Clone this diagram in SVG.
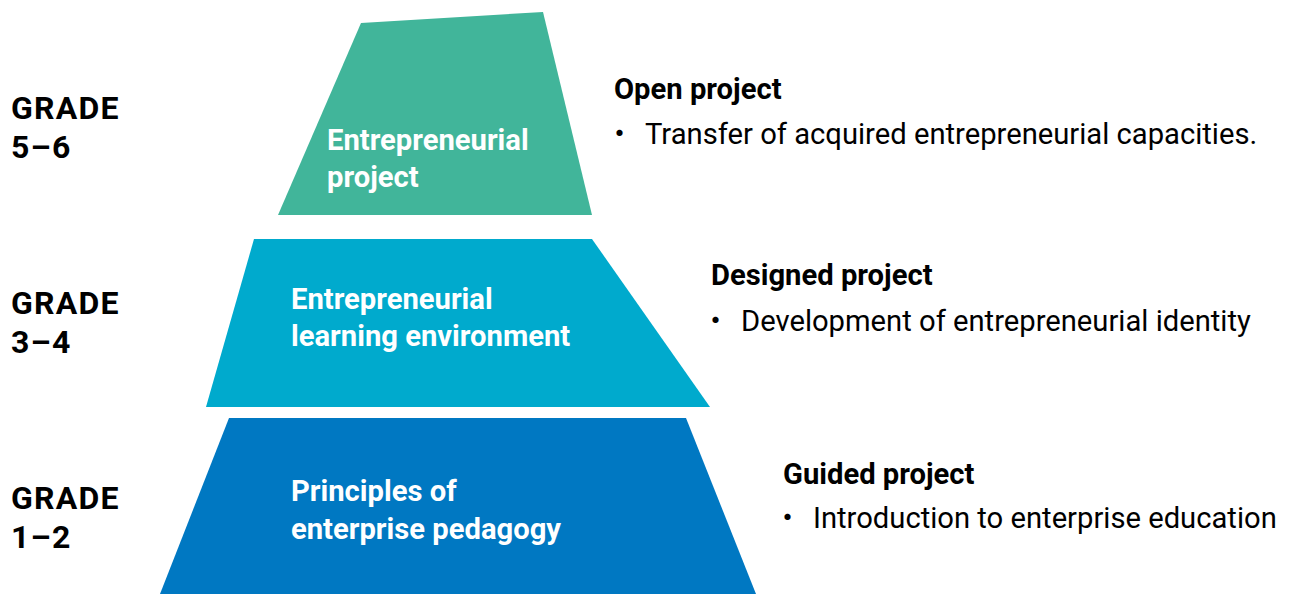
<svg xmlns="http://www.w3.org/2000/svg" width="1296" height="594" viewBox="0 0 1296 594">
<style>
.grade{font-family:Roboto,"Liberation Sans",sans-serif;font-weight:700;font-size:32px;letter-spacing:1.2px;fill:#000}
.lbl{font-family:Roboto,"Liberation Sans",sans-serif;font-weight:700;font-size:29.2px;fill:#fff}
.head{font-family:Roboto,"Liberation Sans",sans-serif;font-weight:700;font-size:29.2px;fill:#000}
.desc{font-family:Roboto,"Liberation Sans",sans-serif;font-weight:400;font-size:29.2px;fill:#000}
.dot{font-family:"Noto Sans CJK JP",Roboto,sans-serif;font-weight:400;font-size:29px;fill:#000}
</style>
<rect width="1296" height="594" fill="#fff"/>
<g id="connectors"></g>
<g id="level-top">
<polygon points="361,23 543,12 592,215 278,215" fill="#41B59A"/>
<text class="lbl" x="327" y="150">Entrepreneurial</text>
<text class="lbl" x="327" y="187">project</text>
</g>
<g id="level-middle">
<polygon points="254,239 592,239 710,407 206,407" fill="#00AACD"/>
<text class="lbl" x="291" y="309">Entrepreneurial</text>
<text class="lbl" x="291" y="346">learning environment</text>
</g>
<g id="level-bottom">
<polygon points="229,418 686,418 756,594 160,594" fill="#0078C2"/>
<text class="lbl" x="291" y="501">Principles of</text>
<text class="lbl" x="291" y="539">enterprise pedagogy</text>
</g>
<g id="grade-56">
<text class="grade" x="11" y="119">GRADE</text>
<text class="grade" x="11" y="158">5–6</text>
</g>
<g id="grade-34">
<text class="grade" x="11" y="314">GRADE</text>
<text class="grade" x="11" y="353">3–4</text>
</g>
<g id="grade-12">
<text class="grade" x="11" y="509">GRADE</text>
<text class="grade" x="11" y="548">1–2</text>
</g>
<g id="desc-open">
<text class="head" x="614" y="99">Open project</text>
<text class="dot" x="605" y="144">・</text>
<text class="desc" x="645" y="144">Transfer of acquired entrepreneurial capacities.</text>
</g>
<g id="desc-designed">
<text class="head" x="711" y="285">Designed project</text>
<text class="dot" x="701" y="331">・</text>
<text class="desc" x="741" y="331">Development of entrepreneurial identity</text>
</g>
<g id="desc-guided">
<text class="head" x="783" y="484">Guided project</text>
<text class="dot" x="773" y="528">・</text>
<text class="desc" x="813" y="528">Introduction to enterprise education</text>
</g>
</svg>
